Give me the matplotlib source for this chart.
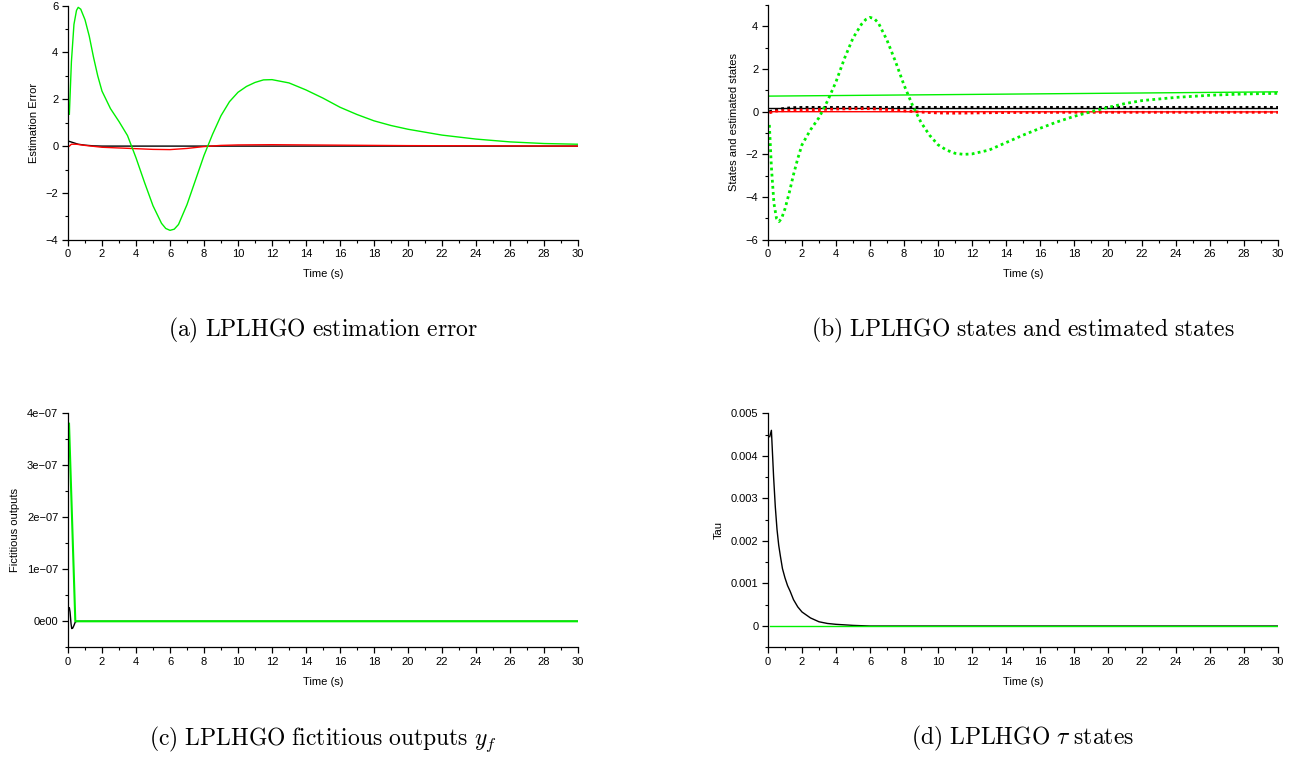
import matplotlib
matplotlib.use("Agg")
import matplotlib.pyplot as plt
from matplotlib.ticker import MultipleLocator, FuncFormatter

plt.rcParams['font.family'] = ['Liberation Sans', 'DejaVu Sans']
plt.rcParams['mathtext.fontset'] = 'cm'

GREEN = '#00f000'
RED = '#ff0000'
BLACK = '#000000'

# ---- (a) estimation error ----
t_err_g = [0.08, 0.2, 0.35, 0.5, 0.6, 0.75, 1.0, 1.25, 1.5, 1.75, 2.0, 2.5, 3.0,
           3.5, 4.0, 4.5, 5.0, 5.5, 5.75, 6.0, 6.25, 6.5, 7.0, 7.5, 8.0, 8.5, 9.0,
           9.5, 10.0, 10.5, 11.0, 11.5, 12.0, 13.0, 14.0, 15.0, 16.0, 17.0, 18.0,
           19.0, 20.0, 22.0, 24.0, 26.0, 28.0, 30.0]
err_green = [1.36, 3.6, 5.2, 5.8, 5.93, 5.85, 5.4, 4.7, 3.8, 3.0, 2.35, 1.6, 1.05,
             0.45, -0.5, -1.55, -2.55, -3.3, -3.52, -3.6, -3.55, -3.35, -2.5,
             -1.45, -0.4, 0.5, 1.3, 1.9, 2.3, 2.55, 2.72, 2.83, 2.84, 2.7, 2.4,
             2.05, 1.66, 1.35, 1.08, 0.88, 0.72, 0.47, 0.3, 0.18, 0.11, 0.08]
t_err_r = [0.08, 0.2, 0.5, 1.0, 2.0, 3.0, 4.0, 5.0, 6.0, 7.0, 8.0, 9.0, 10.0,
           12.0, 14.0, 16.0, 20.0, 25.0, 30.0]
err_red = [0.0, 0.08, 0.08, 0.03, -0.05, -0.08, -0.11, -0.14, -0.15, -0.1, -0.02,
           0.03, 0.05, 0.06, 0.05, 0.04, 0.02, 0.01, 0.0]
t_err_k = [0.08, 0.3, 0.6, 1.0, 1.5, 2.0, 30.0]
err_black = [0.2, 0.15, 0.08, 0.04, 0.01, 0.0, 0.0]

# ---- (b) states and estimated states ----
t_state = [0.08, 30.0]
state_green = [0.73, 0.93]
state_black = [0.19, 0.19]
state_red = [0.0, -0.01]
t_est_g = [0.08, 0.2, 0.35, 0.5, 0.65, 0.8, 1.0, 1.25, 1.5, 1.75, 2.0, 2.5, 3.0,
           3.5, 4.0, 4.5, 5.0, 5.5, 5.75, 6.0, 6.25, 6.5, 7.0, 7.5, 8.0, 8.5, 9.0,
           9.5, 10.0, 10.5, 11.0, 11.5, 12.0, 13.0, 14.0, 15.0, 16.0, 17.0, 18.0,
           19.0, 20.0, 21.0, 22.0, 24.0, 26.0, 28.0, 30.0]
est_green = [-0.62, -2.6, -4.3, -5.0, -5.15, -5.0, -4.55, -3.8, -2.95, -2.2, -1.55,
             -0.85, -0.28, 0.5, 1.4, 2.5, 3.45, 4.1, 4.32, 4.42, 4.36, 4.15, 3.35,
             2.35, 1.25, 0.3, -0.5, -1.1, -1.55, -1.8, -1.95, -2.0, -1.98, -1.8,
             -1.45, -1.1, -0.78, -0.48, -0.22, 0.0, 0.2, 0.38, 0.52, 0.67, 0.77,
             0.83, 0.86]
t_est_k = [0.08, 0.3, 0.6, 1.0, 1.5, 2.0, 30.0]
est_black = [0.0, 0.05, 0.11, 0.16, 0.19, 0.2, 0.2]
t_est_r = [0.08, 0.5, 1.0, 2.0, 3.0, 4.0, 5.0, 6.0, 7.0, 8.0, 9.0, 10.0, 11.0,
           12.0, 14.0, 18.0, 30.0]
est_red = [-0.05, 0.03, 0.05, 0.08, 0.1, 0.12, 0.14, 0.14, 0.1, 0.04, -0.02,
           -0.06, -0.07, -0.06, -0.04, -0.03, -0.03]

# ---- (c) fictitious outputs ----
t_yf_k = [0.08, 0.12, 0.18, 0.22, 0.28, 0.35, 0.42, 0.5, 30.0]
yf_black = [0.26e-7, 0.18e-7, -0.05e-7, -0.14e-7, -0.13e-7, -0.08e-7, -0.02e-7, 0.0, 0.0]
t_yf_g = [0.06, 0.43, 30.0]
yf_green = [3.8e-7, 0.0, 0.0]

# ---- (d) tau states ----
t_tau_k = [0.1, 0.2, 0.33, 0.43, 0.53, 0.63, 0.73, 0.85, 1.0, 1.15, 1.3, 1.5,
           1.75, 2.0, 2.5, 3.0, 3.5, 4.0, 5.0, 6.0, 30.0]
tau_black = [4.45e-3, 4.6e-3, 3.5e-3, 2.8e-3, 2.27e-3, 1.9e-3, 1.64e-3, 1.35e-3,
             1.13e-3, 0.95e-3, 0.82e-3, 0.62e-3, 0.45e-3, 0.33e-3, 0.19e-3,
             0.1e-3, 0.06e-3, 0.04e-3, 0.015e-3, 0.0, 0.0]
t_tau_g = [0.1, 30.0]
tau_green = [0.0, 0.0]

x_ticks = list(range(0, 31, 2))
captions = [r'$\mathrm{(a)\ LPLHGO\ estimation\ error}$',
            r'$\mathrm{(b)\ LPLHGO\ states\ and\ estimated\ states}$',
            r'$\mathrm{(c)\ LPLHGO\ fictitious\ outputs\ }y_f$',
            r'$\mathrm{(d)\ LPLHGO\ }\tau\mathrm{\ states}$']

W, H = 1297, 757
fig = plt.figure(figsize=(W / 100, H / 100), dpi=100)


def px_axes(x0, x1, ytop, ybot):
    return fig.add_axes([x0 / W, 1 - ybot / H, (x1 - x0) / W, (ybot - ytop) / H])


def style(ax, ylim, ymajor, yminor, ylabel):
    ax.set_xlim(0, 30)
    ax.set_ylim(*ylim)
    ax.set_xticks(x_ticks)
    ax.xaxis.set_minor_locator(MultipleLocator(1))
    ax.yaxis.set_major_locator(MultipleLocator(ymajor))
    ax.yaxis.set_minor_locator(MultipleLocator(yminor))
    for s in ('top', 'right'):
        ax.spines[s].set_visible(False)
    for s in ('left', 'bottom'):
        ax.spines[s].set_linewidth(0.9)
    ax.tick_params(which='major', direction='out', length=4, width=0.9, labelsize=8, pad=3)
    ax.tick_params(which='minor', direction='out', length=2.2, width=0.8)
    ax.set_xlabel('Time (s)', fontsize=8, labelpad=7)
    ax.set_ylabel(ylabel, fontsize=8, labelpad=5)


ax_a = px_axes(68, 578, 5.7, 239.7)
ax_b = px_axes(768, 1278, 5.0, 239.7)
ax_c = px_axes(68, 578, 413.3, 647.3)
ax_d = px_axes(768, 1278, 413.3, 647.3)

ax_a.plot(t_err_k, err_black, color=BLACK, lw=1.0)
ax_a.plot(t_err_r, err_red, color=RED, lw=1.0)
ax_a.plot(t_err_g, err_green, color=GREEN, lw=1.0)
style(ax_a, (-4, 6), 2, 1, 'Estimation Error')

ax_b.plot(t_state, state_black, color=BLACK, lw=1.0)
ax_b.plot(t_state, state_red, color=RED, lw=1.0)
ax_b.plot(t_state, state_green, color=GREEN, lw=1.0)
ax_b.plot(t_est_k, est_black, color=BLACK, lw=2.0, ls=(0, (1, 1.2)))
ax_b.plot(t_est_r, est_red, color=RED, lw=2.0, ls=(0, (1, 1.2)))
ax_b.plot(t_est_g, est_green, color=GREEN, lw=2.0, ls=(0, (1, 1.2)))
style(ax_b, (-6, 5), 2, 1, 'States and estimated states')

ax_c.plot(t_yf_k, yf_black, color=BLACK, lw=1.0)
ax_c.plot(t_yf_g, yf_green, color=GREEN, lw=1.5)
style(ax_c, (-0.5e-7, 4e-7), 1e-7, 0.5e-7, 'Fictitious outputs')


def sci_fmt(v, pos):
    if abs(v) < 1e-12:
        return '0e00'
    return f'{v:.0e}'.replace('-', '\u2212')


ax_c.yaxis.set_major_formatter(FuncFormatter(sci_fmt))

ax_d.plot(t_tau_k, tau_black, color=BLACK, lw=1.0)
ax_d.plot(t_tau_g, tau_green, color=GREEN, lw=1.0)
style(ax_d, (-0.0005, 0.005), 0.001, 0.0005, 'Tau')
ax_d.yaxis.set_major_formatter(FuncFormatter(lambda v, p: '0' if abs(v) < 1e-12 else f'{v:.3f}'))

for ax, cap in zip([ax_a, ax_b, ax_c, ax_d], captions):
    bb = ax.get_position()
    cx = (bb.x0 + bb.x1) / 2
    top = 316 if ax in (ax_a, ax_b) else 724
    fig.text(cx, 1 - top / H, cap, ha='center', va='top', fontsize=17)

fig.savefig('out.png', dpi=100)
